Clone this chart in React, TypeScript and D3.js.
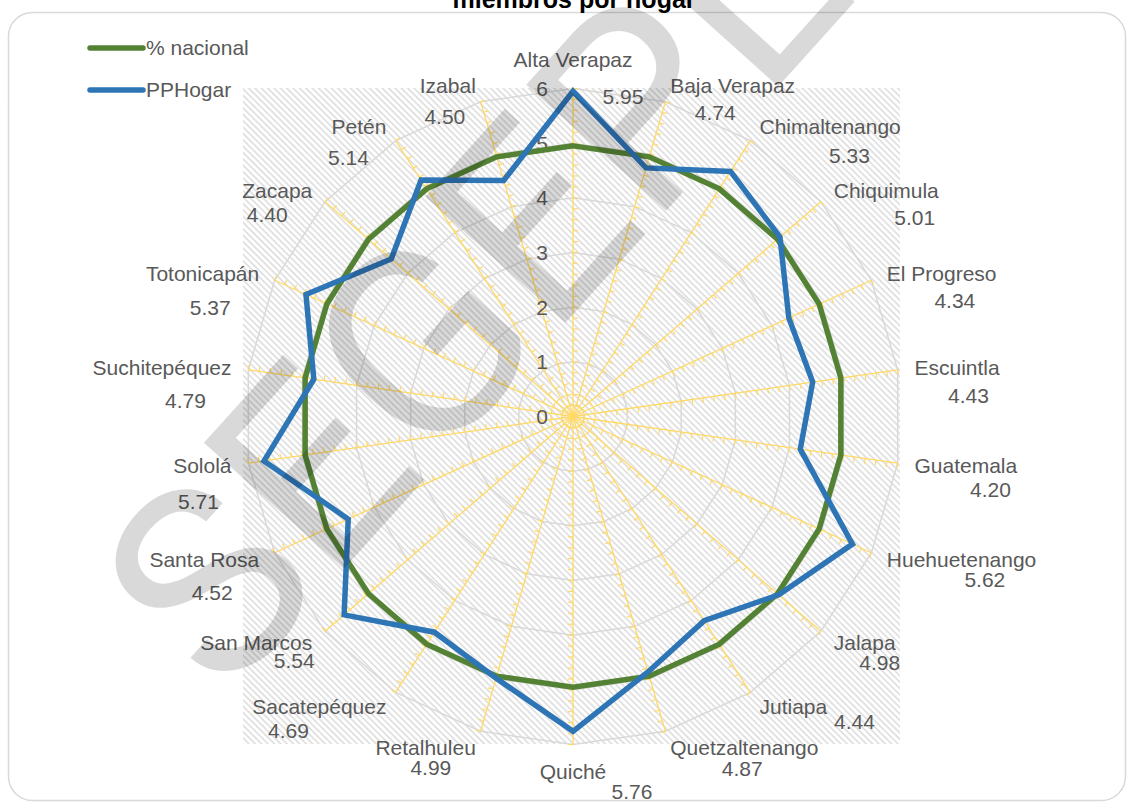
import React, { useEffect, useRef } from 'react';
import * as d3 from 'd3';

// departamentos en el orden de la gráfica (sentido horario desde arriba)
const departamentos = [
  'Alta Verapaz', 'Baja Verapaz', 'Chimaltenango', 'Chiquimula', 'El Progreso',
  'Escuintla', 'Guatemala', 'Huehuetenango', 'Jalapa', 'Jutiapa',
  'Quetzaltenango', 'Quiché', 'Retalhuleu', 'Sacatepéquez', 'San Marcos',
  'Santa Rosa', 'Sololá', 'Suchitepéquez', 'Totonicapán', 'Zacapa', 'Petén', 'Izabal'
];

const ppHogar = [
  5.95, 4.74, 5.33, 5.01, 4.34, 4.43, 4.20, 5.62, 4.98, 4.44,
  4.87, 5.76, 4.99, 4.69, 5.54, 4.52, 5.71, 4.79, 5.37, 4.40, 5.14, 4.50
];

const nacional = [
  4.95, 4.95, 4.95, 4.95, 4.95, 4.95, 4.95, 4.95, 4.95, 4.95, 4.95,
  4.95, 4.95, 4.95, 4.95, 4.95, 4.95, 4.95, 4.95, 4.95, 4.95, 4.95
];

const escala = [0, 1, 2, 3, 4, 5, 6];
const series = ['% nacional', 'PPHogar'];
const colores = ['#548235', '#2E75B6'];

// desplazamiento de cada etiqueta de valor respecto al ancla de su departamento
const desplazaValor: [number, number][] = [
  [50, 25], [45, 27], [90, 29], [81, 27], [68, 27], [54, 28], [76, 24], [98, 20],
  [46, 20], [95, 15], [72, 21], [59, 30], [-45, 20], [-98, 24], [-18, 18], [-47, 33],
  [-33, 36], [-46, 33], [-49, 34], [-45, 24], [-38, 31], [-31, 31]
];

const FONT = "'Liberation Sans', Arial, sans-serif";

function App() {
  const ref = useRef<SVGSVGElement>(null);

  useEffect(() => {
    const svg = d3.select(ref.current);
    svg.selectAll('*').remove();

    const cx = 573;
    const cy = 416.5;
    const n = departamentos.length;

    const r = d3.scaleLinear().domain([0, 6]).range([0, 328]);
    const ang = d3.scaleLinear().domain([0, n]).range([0, 2 * Math.PI]);

    const defs = svg.append('defs');
    const pat = defs.append('pattern')
      .attr('id', 'rayas')
      .attr('patternUnits', 'userSpaceOnUse')
      .attr('width', 4.5)
      .attr('height', 4.5)
      .attr('patternTransform', 'rotate(-45)');
    pat.append('rect').attr('width', 4.5).attr('height', 4.5).attr('fill', '#fff');
    pat.append('line')
      .attr('x1', 1).attr('y1', 0).attr('x2', 1).attr('y2', 4.5)
      .attr('stroke', '#d2d2d2').attr('stroke-width', 1.2);

    // marco
    svg.append('rect')
      .attr('x', 8.5).attr('y', 12.5)
      .attr('width', 1117).attr('height', 788)
      .attr('rx', 24)
      .attr('fill', '#fff')
      .attr('stroke', '#d9d9d9')
      .attr('stroke-width', 1.5);

    // titulo (cortado arriba)
    svg.append('text')
      .attr('x', 574).attr('y', 8)
      .attr('text-anchor', 'middle')
      .attr('font-family', FONT)
      .attr('font-weight', 'bold')
      .attr('font-size', 25)
      .attr('fill', '#000')
      .text('miembros por hogar');

    // area de trazado con rayado
    svg.append('rect')
      .attr('x', 243).attr('y', 88)
      .attr('width', 657).attr('height', 656)
      .attr('fill', 'url(#rayas)');

    const g = svg.append('g').attr('transform', `translate(${cx},${cy})`);

    // anillos
    const anillo = d3.lineRadial<number>()
      .angle((d, i) => ang(i))
      .radius(d => r(d))
      .curve(d3.curveLinearClosed);

    g.selectAll('.anillo')
      .data(escala.filter(v => v > 0))
      .enter()
      .append('path')
      .attr('d', v => anillo(departamentos.map(() => v)))
      .attr('fill', 'none')
      .attr('stroke', '#d9d9d9')
      .attr('stroke-width', 1.5);

    // ejes radiales con marcas menores
    const menores = d3.range(1, 31).map(k => k * 0.2);
    departamentos.forEach((d, i) => {
      const a = ang(i);
      const ux = Math.sin(a), uy = -Math.cos(a);
      const px = Math.cos(a), py = Math.sin(a);
      g.append('line')
        .attr('x1', 0).attr('y1', 0)
        .attr('x2', ux * r(6)).attr('y2', uy * r(6))
        .attr('stroke', '#FFD966')
        .attr('stroke-width', 1.3);
      g.selectAll(null)
        .data(menores)
        .enter()
        .append('line')
        .attr('x1', v => ux * r(v)).attr('y1', v => uy * r(v))
        .attr('x2', v => ux * r(v) + px * 5).attr('y2', v => uy * r(v) + py * 5)
        .attr('stroke', '#FFD966')
        .attr('stroke-width', 1.2);
    });

    // etiquetas de escala
    g.selectAll('.escala')
      .data(escala)
      .enter()
      .append('text')
      .attr('x', -31)
      .attr('y', v => -r(v))
      .attr('dy', '0.35em')
      .attr('text-anchor', 'middle')
      .attr('font-family', FONT)
      .attr('font-size', 21)
      .attr('fill', '#595959')
      .text(v => String(v));

    // series
    const linea = d3.lineRadial<number>()
      .angle((d, i) => ang(i))
      .radius(d => r(d))
      .curve(d3.curveLinearClosed);

    [nacional, ppHogar].forEach((serie, k) => {
      g.append('path')
        .attr('d', linea(serie))
        .attr('fill', 'none')
        .attr('stroke', colores[k])
        .attr('stroke-width', 5.5)
        .attr('stroke-linejoin', 'miter');
    });

    // etiquetas de departamento y valor
    const rEtiqueta = 345;
    departamentos.forEach((nombre, i) => {
      const a = ang(i);
      const ax = Math.sin(a) * rEtiqueta;
      const ay = -Math.cos(a) * rEtiqueta;
      const s = Math.sin(a);
      let anchor = 'middle';
      let ny = ay;
      if (s > 0.1) anchor = 'start';
      else if (s < -0.1) anchor = 'end';
      else ny = Math.cos(a) > 0 ? ay - 11.5 : ay + 10.5;
      g.append('text')
        .attr('x', ax).attr('y', ny)
        .attr('dy', '0.35em')
        .attr('text-anchor', anchor)
        .attr('font-family', FONT)
        .attr('font-size', 21)
        .attr('fill', '#595959')
        .text(nombre);
      const [dx, dy] = desplazaValor[i];
      g.append('text')
        .attr('x', ax + dx).attr('y', ay + dy)
        .attr('dy', '0.35em')
        .attr('text-anchor', 'middle')
        .attr('font-family', FONT)
        .attr('font-size', 21)
        .attr('fill', '#595959')
        .text(d3.format('.2f')(ppHogar[i]));
    });

    // leyenda
    const ley = svg.append('g');
    series.forEach((nom, k) => {
      const y = 48 + k * 42;
      ley.append('line')
        .attr('x1', 90).attr('x2', 143)
        .attr('y1', y).attr('y2', y)
        .attr('stroke', colores[k])
        .attr('stroke-width', 5.5)
        .attr('stroke-linecap', 'round');
      ley.append('text')
        .attr('x', 146).attr('y', y)
        .attr('dy', '0.35em')
        .attr('font-family', FONT)
        .attr('font-size', 21)
        .attr('fill', '#595959')
        .text(nom);
    });

    // marca de agua
    svg.append('text')
      .attr('transform', 'translate(224,702) rotate(-48)')
      .attr('font-family', 'Roboto, sans-serif')
      .attr('font-weight', 400)
      .attr('font-size', 265)
      .attr('fill', '#000')
      .attr('fill-opacity', 0.15)
      .text('SEGEPLAN');
  }, []);

  return (
    <svg
      ref={ref}
      width={1127}
      height={803}
      style={{ position: 'absolute', left: 0, top: 0, display: 'block' }}
    />
  );
}

export default App;
